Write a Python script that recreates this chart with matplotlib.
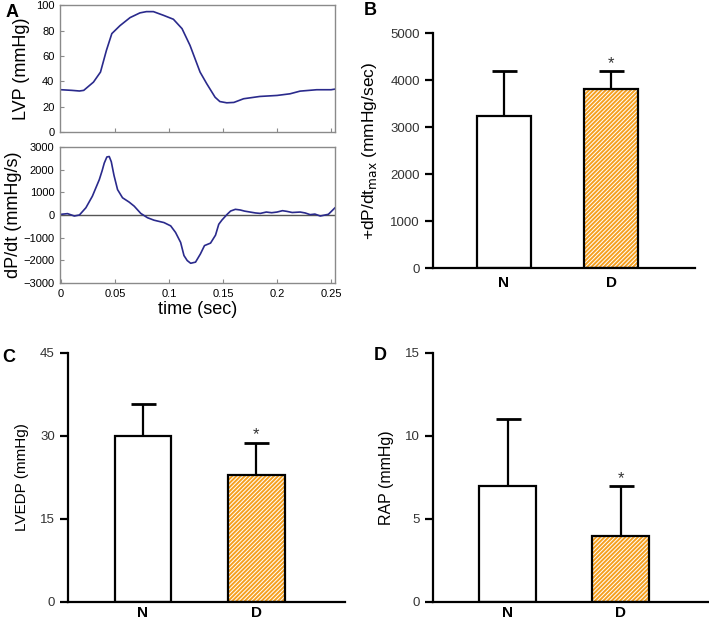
import matplotlib.pyplot as plt

plt.rcParams['font.family'] = ['Liberation Sans', 'DejaVu Sans']
plt.rcParams['hatch.linewidth'] = 1.4

# LV pressure trace (panel A, top)
lvp_t = [0.0, 0.010, 0.017, 0.021, 0.030, 0.0365, 0.042, 0.047, 0.0546, 0.0639, 0.073, 0.079,
         0.0855, 0.0948, 0.104, 0.112, 0.1194, 0.1287, 0.1349, 0.1426, 0.147, 0.1534, 0.160,
         0.169, 0.184, 0.200, 0.212, 0.2213, 0.2367, 0.250, 0.2537]
lvp = [33.5, 33, 32.5, 33, 39.5, 47.4, 64.5, 77.7, 84, 90.3, 94, 95,
       95, 92.1, 89, 81.6, 68.4, 47.4, 38.2, 27.6, 24.2, 23.2, 23.5,
       26.4, 28.2, 29, 30.3, 32.4, 33.5, 33.5, 34]

# dP/dt trace (panel A, bottom)
dpdt_t = [0.0, 0.006, 0.0123, 0.017, 0.023, 0.029, 0.0354, 0.038, 0.040, 0.0424, 0.0446, 0.0465,
          0.0490, 0.0523, 0.0569, 0.063, 0.0677, 0.0738, 0.080, 0.0861, 0.0953, 0.1015, 0.106,
          0.1107, 0.1138, 0.1168, 0.120, 0.1245, 0.129, 0.1328, 0.1384, 0.143, 0.146,
          0.149, 0.1538, 0.157, 0.1614, 0.166, 0.170, 0.175, 0.180, 0.1845, 0.190, 0.195,
          0.200, 0.205, 0.209, 0.214, 0.2214, 0.226, 0.2306, 0.235, 0.240, 0.2475, 0.2537]
dpdt = [30, 60, -45, 0, 320, 830, 1560, 1950, 2290, 2560, 2580, 2350,
        1750, 1120, 760, 570, 390, 70, -120, -230, -335, -480, -770,
        -1210, -1790, -2010, -2130, -2080, -1720, -1350, -1240, -890, -410,
        -220, 30, 175, 250, 220, 170, 130, 90, 70, 130, 100,
        130, 190, 160, 110, 130, 90, 15, 40, -45, 30, 320]

groups = ['N', 'D']
dpdt_max = [3230, 3800]
dpdt_max_err = [970, 400]
lvedp = [30, 23]
lvedp_err = [5.7, 5.8]
rap = [7, 4]
rap_err = [4, 3]

fig = plt.figure(figsize=(7.09, 6.21), dpi=100)

grey = '#8a8a8a'
trace = '#2a2a8c'

# ---- panel A top
ax1 = fig.add_axes([0.0846, 0.787, 0.388, 0.2045])
ax1.plot(lvp_t, lvp, color=trace, lw=1.2)
ax1.set_xlim(-0.001, 0.2537)
ax1.set_ylim(0, 100)
ax1.set_yticks(range(0, 101, 20))
ax1.set_xticks([0.05, 0.1, 0.15, 0.2, 0.25])
ax1.set_xticklabels([])
ax1.set_ylabel('LVP (mmHg)', fontsize=13, labelpad=4)

# ---- panel A bottom
ax2 = fig.add_axes([0.0846, 0.5443, 0.388, 0.219])
ax2.axhline(0, color='#555555', lw=1.0)
ax2.plot(dpdt_t, dpdt, color=trace, lw=1.2)
ax2.set_xlim(-0.001, 0.2537)
ax2.set_ylim(-3000, 3000)
ax2.set_yticks(range(-3000, 3001, 1000))
ax2.set_xticks([0, 0.05, 0.1, 0.15, 0.2, 0.25])
ax2.set_xticklabels(['0', '0.05', '0.1', '0.15', '0.2', '0.25'])
ax2.set_ylabel('dP/dt (mmHg/s)', fontsize=13, labelpad=1)
ax2.set_xlabel('time (sec)', fontsize=13, labelpad=2)

for ax in (ax1, ax2):
    for s in ax.spines.values():
        s.set_color(grey)
        s.set_linewidth(1.0)
    ax.tick_params(direction='in', length=3, color=grey, labelsize=8, pad=4)


def bar_panel(rect, vals, errs, ylim, yticks, ylabel, ylsize, letter, lpos):
    ax = fig.add_axes(rect)
    x = [0, 1]
    ax.bar(x[0], vals[0], width=0.5, color='white', edgecolor='black', linewidth=1.6, zorder=2)
    ax.bar(x[1], vals[1], width=0.5, color='white', edgecolor='#f5a020', hatch='////////',
           linewidth=0, zorder=2)
    ax.bar(x[1], vals[1], width=0.5, fill=False, edgecolor='black', linewidth=1.6, zorder=3)
    ax.errorbar(x, vals, yerr=[[0, 0], errs], fmt='none', ecolor='black', elinewidth=1.6,
                capsize=9, capthick=2, zorder=1)
    ax.text(x[1], vals[1] + errs[1], '*', ha='center', va='bottom', fontsize=12, color='#333333')
    ax.set_xlim(-0.66, 1.78)
    ax.set_ylim(*ylim)
    ax.set_yticks(yticks)
    ax.set_xticks(x)
    ax.set_xticklabels(groups, fontsize=11, fontweight='bold')
    ax.tick_params(axis='x', length=0, pad=3)
    ax.tick_params(axis='y', direction='out', length=6, width=1.6, labelsize=9.5,
                   labelcolor='#333333')
    for s in ('top', 'right'):
        ax.spines[s].set_visible(False)
    for s in ('left', 'bottom'):
        ax.spines[s].set_linewidth(1.6)
    ax.set_ylabel(ylabel, fontsize=ylsize, labelpad=8)
    fig.text(lpos[0], lpos[1], letter, fontsize=13, fontweight='bold', ha='left', va='center')
    return ax


axb = bar_panel([0.6107, 0.5684, 0.3695, 0.3784], dpdt_max, dpdt_max_err, (0, 5000),
                range(0, 5001, 1000), '+dP/dt$_{\\rm max}$ (mmHg/sec)', 12.5, 'B', (0.513, 0.983))
axb.tick_params(axis='x', pad=6)
bar_panel([0.0959, 0.0306, 0.3907, 0.401], lvedp, lvedp_err, (0, 45),
          [0, 15, 30, 45], 'LVEDP (mmHg)', 11, 'C', (0.003, 0.425))
bar_panel([0.6107, 0.0306, 0.389, 0.401], rap, rap_err, (0, 15),
          [0, 5, 10, 15], 'RAP (mmHg)', 11.5, 'D', (0.527, 0.428))

fig.text(0.008, 0.98, 'A', fontsize=13, fontweight='bold', ha='left', va='center')

fig.savefig('out.png', dpi=100)
